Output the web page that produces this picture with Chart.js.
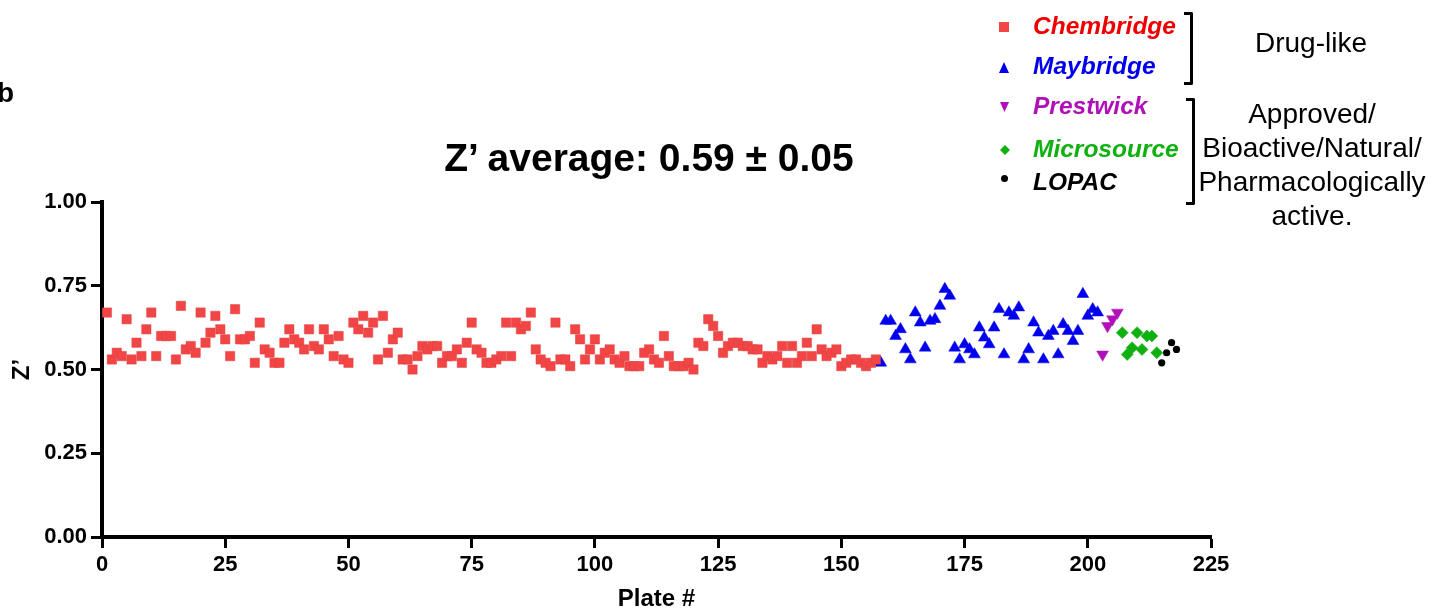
<!DOCTYPE html>
<html>
<head>
<meta charset="utf-8">
<script src="https://cdn.jsdelivr.net/npm/chart.js@4.4.1/dist/chart.umd.min.js"></script>
<style>
html,body{margin:0;padding:0;background:#fff;}
#wrap{position:relative;width:1446px;height:614px;overflow:hidden;font-family:"Liberation Sans",Arial,sans-serif;color:#000;}
#c{position:absolute;left:0;top:0;}
.t{position:absolute;white-space:nowrap;line-height:1;transform:translateY(-50%);}
.lg{font-weight:bold;font-style:italic;font-size:24.5px;left:1033px;}
.mk{position:absolute;}
.br{position:absolute;border-top:3px solid #000;border-right:3px solid #000;border-bottom:3px solid #000;border-radius:0 2px 2px 0;width:6px;}
.grp{position:absolute;font-size:28px;text-align:center;line-height:34px;white-space:nowrap;transform:translateX(-50%);}
</style>
</head>
<body>
<div id="wrap">
<canvas id="c" width="1446" height="614"></canvas>
<div class="t" style="left:-3px;top:93px;font-size:28px;font-weight:bold;">b</div>
<div class="t" style="left:649px;top:157px;font-size:39px;font-weight:bold;transform:translate(-50%,-50%);">Z’ average: 0.59 ± 0.05</div>

<div class="mk" style="left:999px;top:22px;width:10px;height:10px;background:#F24545;"></div>
<div class="mk" style="left:999px;top:62px;width:10px;height:11px;background:#0000EE;clip-path:polygon(50% 0,100% 100%,0 100%);"></div>
<div class="mk" style="left:1000px;top:102px;width:9px;height:10px;background:#B010B8;clip-path:polygon(0 0,100% 0,50% 100%);"></div>
<div class="mk" style="left:1000px;top:145px;width:10px;height:10px;background:#10B010;clip-path:polygon(50% 0,100% 50%,50% 100%,0 50%);"></div>
<div class="mk" style="left:1001px;top:175px;width:7px;height:7px;background:#000;border-radius:50%;"></div>

<div class="t lg" style="top:26px;color:#EE0000;">Chembridge</div>
<div class="t lg" style="top:66px;color:#0000EE;">Maybridge</div>
<div class="t lg" style="top:106px;color:#B010B8;">Prestwick</div>
<div class="t lg" style="top:149px;color:#10B010;">Microsource</div>
<div class="t lg" style="top:182px;color:#000;">LOPAC</div>

<div class="br" style="left:1184px;top:12px;height:67px;"></div>
<div class="br" style="left:1186px;top:98px;height:101px;"></div>

<div class="grp" style="left:1311px;top:26px;">Drug-like</div>
<div class="grp" style="left:1312px;top:97px;">Approved/<br>Bioactive/Natural/<br>Pharmacologically<br>active.</div>
</div>

<script>
// ---- data (Z' per plate) ----
const chembridgeStart = 1;
const chembridgeZ = [
  0.67,0.53,0.55,0.54,0.65,0.53,0.58,0.54,0.62,0.67,
  0.54,0.60,0.60,0.60,0.53,0.69,0.56,0.57,0.55,0.67,
  0.58,0.61,0.66,0.62,0.59,0.54,0.68,0.59,0.59,0.60,
  0.52,0.64,0.56,0.55,0.52,0.52,0.58,0.62,0.59,0.58,
  0.56,0.62,0.57,0.56,0.62,0.59,0.54,0.60,0.53,0.52,
  0.64,0.62,0.66,0.61,0.64,0.53,0.66,0.55,0.59,0.61,
  0.53,0.53,0.50,0.54,0.57,0.56,0.57,0.57,0.52,0.54,
  0.54,0.56,0.52,0.58,0.64,0.56,0.55,0.52,0.52,0.53,
  0.54,0.64,0.54,0.64,0.62,0.63,0.67,0.56,0.53,0.52,
  0.51,0.64,0.53,0.53,0.51,0.62,0.59,0.53,0.56,0.59,
  0.53,0.55,0.56,0.53,0.52,0.54,0.51,0.51,0.51,0.55,
  0.56,0.53,0.52,0.60,0.54,0.51,0.51,0.51,0.52,0.50,
  0.58,0.57,0.65,0.63,0.60,0.55,0.57,0.58,0.58,0.57,
  0.57,0.56,0.56,0.52,0.54,0.53,0.54,0.57,0.52,0.57,
  0.52,0.54,0.58,0.54,0.62,0.56,0.54,0.55,0.56,0.51,
  0.52,0.53,0.53,0.52,0.51,0.52,0.53
];
const maybridgeStart = 158;
const maybridgeZ = [
  0.52,0.645,0.645,0.60,0.62,0.56,0.53,0.67,0.64,0.565,
  0.645,0.65,0.69,0.74,0.72,0.565,0.53,0.575,0.56,0.545,
  0.625,0.595,0.575,0.625,0.68,0.545,0.67,0.66,0.685,0.53,
  0.56,0.64,0.61,0.53,0.60,0.615,0.545,0.635,0.615,0.585,
  0.615,0.725,0.66,0.68,0.67
];
const prestwickStart = 203;
const prestwickZ = [0.545,0.63,0.65,0.67];
const microsourceStart = 207;
const microsourceZ = [0.61,0.545,0.565,0.61,0.56,0.60,0.60,0.55];
const lopacStart = 215;
const lopacZ = [0.52,0.55,0.58,0.56];

const xTicksMax = 225, xStep = 25;
const yTicksMax = 1, yStep = 0.25;

function pts(start, vals){ return vals.map((v,i)=>({x:start+i, y:v})); }

const FONT = '"Liberation Sans", Arial, sans-serif';

new Chart(document.getElementById('c'), {
  type: 'scatter',
  data: {
    datasets: [
      {label:'Chembridge', data:pts(chembridgeStart, chembridgeZ), pointStyle:'rect', pointRadius:6.6, backgroundColor:'#F24545', borderColor:'#E04040', borderWidth:0.5},
      {label:'Maybridge', data:pts(maybridgeStart, maybridgeZ), pointStyle:'triangle', pointRadius:6.8, backgroundColor:'#0000EE', borderColor:'#0000EE', borderWidth:0.5},
      {label:'Prestwick', data:pts(prestwickStart, prestwickZ), pointStyle:'triangle', rotation:180, pointRadius:6.8, backgroundColor:'#B010B8', borderColor:'#B010B8', borderWidth:0.5},
      {label:'Microsource', data:pts(microsourceStart, microsourceZ), pointStyle:'rectRot', pointRadius:6, backgroundColor:'#10B010', borderColor:'#10B010', borderWidth:0.5},
      {label:'LOPAC', data:pts(lopacStart, lopacZ), pointStyle:'circle', pointRadius:3.6, backgroundColor:'#000', borderColor:'#000', borderWidth:0}
    ]
  },
  options: {
    responsive: false,
    animation: false,
    devicePixelRatio: 1,
    layout: {padding: {left: 0, top: 202, right: 235, bottom: 0}},
    plugins: {legend: {display: false}, tooltip: {enabled: false}, title: {display: false}},
    scales: {
      x: {
        type: 'linear', min: 0, max: xTicksMax,
        ticks: {stepSize: xStep, color: '#000', padding: 4, maxRotation: 0, autoSkip: false,
                font: {family: FONT, size: 22, weight: 'bold'}},
        grid: {drawOnChartArea: false, drawTicks: true, tickLength: 11, tickWidth: 3, tickColor: '#000'},
        border: {display: true, color: '#000', width: 4},
        title: {display: true, text: 'Plate #', color: '#000', padding: {top: 0, bottom: 0},
                font: {family: FONT, size: 24, weight: 'bold'}},
        afterFit: s => { s.height = 77; }
      },
      y: {
        type: 'linear', min: 0, max: yTicksMax,
        ticks: {stepSize: yStep, color: '#000', padding: 4,
                font: {family: FONT, size: 22, weight: 'bold'},
                callback: v => Number(v).toFixed(2)},
        grid: {drawOnChartArea: false, drawTicks: true, tickLength: 11, tickWidth: 3, tickColor: '#000'},
        border: {display: true, color: '#000', width: 4},
        title: {display: true, text: 'Z’', color: '#000', padding: {top: 8, bottom: 0},
                font: {family: FONT, size: 24, weight: 'bold'}},
        afterFit: s => { s.width = 102; }
      }
    }
  }
});
</script>
</body>
</html>
